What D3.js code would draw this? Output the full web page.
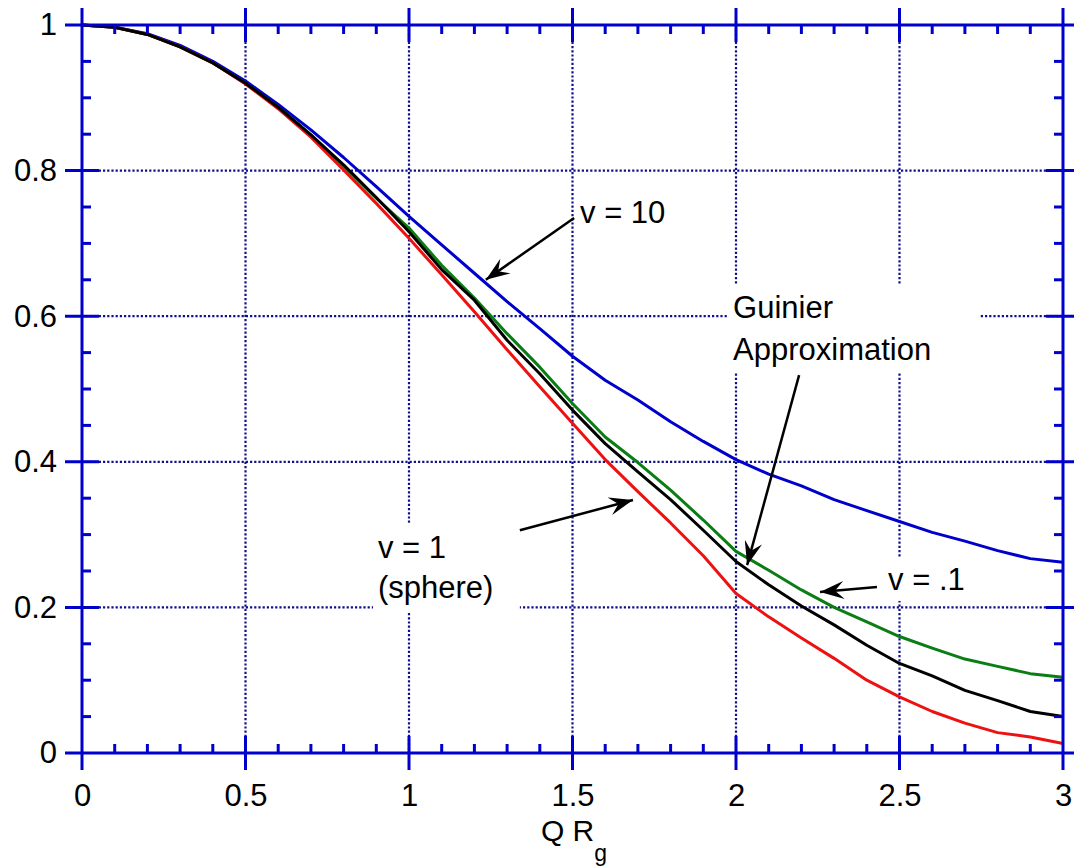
<!DOCTYPE html>
<html>
<head>
<meta charset="utf-8">
<script src="https://cdn.jsdelivr.net/npm/d3@7"></script>
<style>
  body { margin: 0; background: #fff; }
  text { font-family: Arial, "Liberation Sans", sans-serif; }
</style>
</head>
<body>
<div id="chart"></div>
<script>
(function() {
    // values, Q Rg from 0 to 3 in steps of 0.1
    var qrg = [0, 0.1, 0.2, 0.3, 0.4, 0.5, 0.6, 0.7, 0.8, 0.9, 1.0,
               1.1, 1.2, 1.3, 1.4, 1.5, 1.6, 1.7, 1.8, 1.9, 2.0,
               2.1, 2.2, 2.3, 2.4, 2.5, 2.6, 2.7, 2.8, 2.9, 3.0];
    var v10 = [1, 0.997, 0.988, 0.972, 0.950, 0.923, 0.891, 0.856, 0.818, 0.778, 0.737,
               0.698, 0.659, 0.620, 0.583, 0.545, 0.512, 0.485, 0.455, 0.428, 0.403,
               0.383, 0.367, 0.348, 0.333, 0.318, 0.303, 0.291, 0.278, 0.267, 0.262];
    var v01 = [1, 0.997, 0.987, 0.970, 0.948, 0.920, 0.887, 0.849, 0.806, 0.762, 0.721,
               0.670, 0.625, 0.576, 0.530, 0.480, 0.434, 0.399, 0.361, 0.320, 0.277,
               0.251, 0.224, 0.200, 0.180, 0.160, 0.144, 0.129, 0.119, 0.109, 0.104];
    var guinier = [1, 0.997, 0.987, 0.970, 0.948, 0.920, 0.887, 0.849, 0.808, 0.763, 0.716,
               0.664, 0.622, 0.567, 0.521, 0.471, 0.425, 0.386, 0.348, 0.306, 0.263,
               0.231, 0.202, 0.176, 0.148, 0.123, 0.106, 0.086, 0.072, 0.057, 0.050];
    var sphere = [1, 0.997, 0.987, 0.970, 0.948, 0.919, 0.885, 0.846, 0.801, 0.755, 0.707,
               0.657, 0.606, 0.554, 0.503, 0.453, 0.403, 0.359, 0.316, 0.271, 0.219,
               0.187, 0.158, 0.130, 0.100, 0.077, 0.057, 0.041, 0.028, 0.022, 0.013];

    var xTicks = [0, 0.5, 1, 1.5, 2, 2.5, 3];
    var yTicks = [0, 0.2, 0.4, 0.6, 0.8, 1];

    var width = 1074, height = 868;
    var axisBlue = '#0000cc', gridBlue = '#10108c';
    var fs = 31;

    var svg = d3.select('#chart').append('svg')
        .attr('width', width)
        .attr('height', height);

    var x = d3.scaleLinear().domain([0, 3]).range([82, 1063]);
    var y = d3.scaleLinear().domain([0, 1]).range([753, 25]);

    // dotted grid
    svg.append('g').selectAll('line')
        .data(xTicks.slice(1, -1)).enter().append('line')
        .attr('x1', d => x(d)).attr('x2', d => x(d))
        .attr('y1', y(1)).attr('y2', y(0))
        .attr('stroke', gridBlue).attr('stroke-width', 2.2)
        .attr('stroke-dasharray', '2.2,2');
    svg.append('g').selectAll('line')
        .data(yTicks.slice(1, -1)).enter().append('line')
        .attr('y1', d => y(d)).attr('y2', d => y(d))
        .attr('x1', x(0)).attr('x2', x(3))
        .attr('stroke', gridBlue).attr('stroke-width', 2.2)
        .attr('stroke-dasharray', '2.2,2');

    // white boxes behind the labels
    var boxes = [
        [0.890, 1.339, 0.316, 0.194],
        [1.976, 2.746, 0.643, 0.523],
        [2.440, 2.710, 0.269, 0.209]
    ];
    svg.append('g').selectAll('rect')
        .data(boxes).enter().append('rect')
        .attr('x', d => x(d[0]))
        .attr('width', d => x(d[1]) - x(d[0]))
        .attr('y', d => y(d[2]))
        .attr('height', d => y(d[3]) - y(d[2]))
        .attr('fill', '#fff');

    // curves
    var series = [
        { vals: v10, color: '#0000cc' },
        { vals: v01, color: '#0a7d14' },
        { vals: sphere, color: '#ee1111' },
        { vals: guinier, color: '#000000' }
    ];
    var line = d3.line()
        .x(d => x(d[0]))
        .y(d => y(d[1]));
    series.forEach(function(s) {
        svg.append('path')
            .datum(qrg.map((q, i) => [q, s.vals[i]]))
            .attr('d', line)
            .attr('fill', 'none')
            .attr('stroke', s.color)
            .attr('stroke-width', 3)
            .attr('stroke-linejoin', 'round');
    });

    // frame: spines run past the corners like the major ticks
    var ext = 17;
    var frame = svg.append('g').attr('stroke', axisBlue).attr('stroke-width', 3);
    [0, 1].forEach(function(v) {
        frame.append('line')
            .attr('x1', x(0) - ext).attr('x2', x(3) + ext)
            .attr('y1', y(v)).attr('y2', y(v));
    });
    [0, 3].forEach(function(v) {
        frame.append('line')
            .attr('x1', x(v)).attr('x2', x(v))
            .attr('y1', y(1) - ext).attr('y2', y(0) + ext);
    });

    // major ticks, crossing the frame
    xTicks.slice(1, -1).forEach(function(t) {
        frame.append('line').attr('x1', x(t)).attr('x2', x(t))
            .attr('y1', y(0) - ext).attr('y2', y(0) + ext);
        frame.append('line').attr('x1', x(t)).attr('x2', x(t))
            .attr('y1', y(1) - ext).attr('y2', y(1) + ext);
    });
    yTicks.slice(1, -1).forEach(function(t) {
        frame.append('line').attr('y1', y(t)).attr('y2', y(t))
            .attr('x1', x(0) - ext).attr('x2', x(0) + ext);
        frame.append('line').attr('y1', y(t)).attr('y2', y(t))
            .attr('x1', x(3) - ext).attr('x2', x(3) + ext);
    });

    // minor ticks, inside only
    var mt = 9;
    var xMinor = d3.range(1, 30).map(i => i / 10).filter(v => Math.abs(v * 2 - Math.round(v * 2)) > 1e-6);
    var yMinor = d3.range(1, 20).map(i => i / 20).filter(v => Math.abs(v * 5 - Math.round(v * 5)) > 1e-6);
    xMinor.forEach(function(t) {
        frame.append('line').attr('x1', x(t)).attr('x2', x(t))
            .attr('y1', y(0) - mt).attr('y2', y(0));
        frame.append('line').attr('x1', x(t)).attr('x2', x(t))
            .attr('y1', y(1)).attr('y2', y(1) + mt);
    });
    yMinor.forEach(function(t) {
        frame.append('line').attr('y1', y(t)).attr('y2', y(t))
            .attr('x1', x(0)).attr('x2', x(0) + mt);
        frame.append('line').attr('y1', y(t)).attr('y2', y(t))
            .attr('x1', x(3) - mt).attr('x2', x(3));
    });

    // tick labels via axes
    var xAxis = svg.append('g')
        .attr('transform', `translate(0, ${y(0)})`)
        .call(d3.axisBottom(x).tickValues(xTicks).tickSize(0).tickPadding(31).tickFormat(d3.format('')));
    var yAxis = svg.append('g')
        .attr('transform', `translate(${x(0) - 25}, 0)`)
        .call(d3.axisLeft(y).tickValues(yTicks).tickSize(0).tickPadding(0).tickFormat(d3.format('')));
    [xAxis, yAxis].forEach(function(a) {
        a.select('.domain').remove();
        a.selectAll('text')
            .attr('font-family', 'Arial, "Liberation Sans", sans-serif')
            .attr('font-size', fs)
            .attr('fill', '#000');
    });

    // axis title
    var title = svg.append('text')
        .attr('x', 574).attr('y', 841)
        .attr('text-anchor', 'middle')
        .attr('font-size', 30);
    title.append('tspan').text('Q R');
    title.append('tspan').attr('dy', 20).attr('font-size', 23).text('g');

    // arrowhead
    svg.append('defs').append('marker')
        .attr('id', 'head')
        .attr('viewBox', '-24 -9 26 18')
        .attr('refX', 0).attr('refY', 0)
        .attr('markerWidth', 26).attr('markerHeight', 18)
        .attr('markerUnits', 'userSpaceOnUse')
        .attr('orient', 'auto')
        .append('path')
        .attr('d', 'M0,0 L-24,-9 L-15,0 L-24,9 Z')
        .attr('fill', '#000');

    var arrows = [
        [1.505, 0.735, 1.235, 0.650],
        [2.193, 0.519, 2.034, 0.258],
        [2.431, 0.228, 2.257, 0.221],
        [1.339, 0.306, 1.685, 0.3475]
    ];
    svg.append('g').selectAll('line')
        .data(arrows).enter().append('line')
        .attr('x1', d => x(d[0])).attr('y1', d => y(d[1]))
        .attr('x2', d => x(d[2])).attr('y2', d => y(d[3]))
        .attr('stroke', '#000').attr('stroke-width', 2.5)
        .attr('marker-end', 'url(#head)');

    var labels = [
        [1.523, 0.728, 'v = 10'],
        [1.991, 0.598, 'Guinier'],
        [1.991, 0.540, 'Approximation'],
        [2.465, 0.224, 'v = .1'],
        [0.905, 0.268, 'v = 1'],
        [0.905, 0.213, '(sphere)']
    ];
    svg.append('g').selectAll('text')
        .data(labels).enter().append('text')
        .attr('x', d => x(d[0])).attr('y', d => y(d[1]))
        .attr('font-size', fs)
        .attr('fill', '#000')
        .text(d => d[2]);
})();
</script>
</body>
</html>
